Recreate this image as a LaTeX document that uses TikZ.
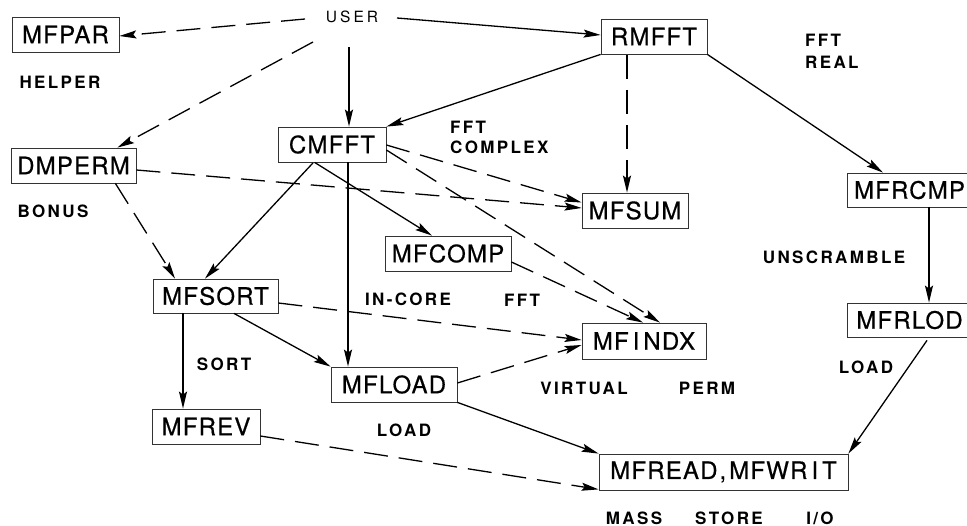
\documentclass[tikz,border=0pt]{standalone}
\usepackage{fontspec}
\setmainfont{TeX Gyre Heros}
\newfontfamily\boxfont[LetterSpace=5,FakeBold=0.6]{TeX Gyre Heros}
\newfontfamily\labfont[LetterSpace=14]{TeX Gyre Heros}
\newfontfamily\userfont[LetterSpace=20]{TeX Gyre Heros}
\usetikzlibrary{arrows.meta}
\begin{document}
\begin{tikzpicture}[x=1pt,y=-1pt,
  routine/.style={draw=black!80, line width=0.8pt, inner sep=0pt,
    minimum height=35pt, font=\boxfont\fontsize{24}{25}\selectfont},
  tag/.style={inner sep=0pt, font=\labfont\bfseries\fontsize{17}{18}\selectfont},
  tagl/.style={tag, anchor=west},
  link/.style={line width=1.3pt, -{Stealth[length=17pt,width=8pt,inset=3pt]}},
  dlink/.style={link, dash pattern=on 24pt off 11pt}]
\clip (0,0) rectangle (967,526);
\useasboundingbox (0,0) rectangle (967,526);

% routines
\node[routine, minimum width=107pt] (mfpar)  at (65.5,34.5)  {MFPAR};
\node[routine, minimum width=106pt] (rmfft)  at (654,36.5)   {RMFFT};
\node[routine, minimum width=108pt] (cmfft)  at (332,144.5)  {CMFFT};
\node[routine, minimum width=125pt] (dmperm) at (73.5,165.5) {DMPERM};
\node[routine, minimum width=106pt] (mfsum)  at (635,210.5)  {MFSUM};
% the two routines on the right run past the edge of the sheet
\node[routine, minimum width=160pt, minimum height=34pt] (mfrcmp) at (927,190) {\kern-35pt MFRCMP};
\node[routine, minimum width=126pt] (mfcomp) at (448,253.5)  {MFCOMP};
\node[routine, minimum width=125pt, minimum height=34pt] (mfsort) at (215.5,296) {MFSORT};
\node[routine, minimum width=124pt, minimum height=36pt] (mfindx) at (644,341) {MF\kern4pt I\kern4pt NDX};
\node[routine, minimum width=160pt, minimum height=34pt] (mfrlod) at (927,320) {\kern-35pt MFRLOD};
\node[routine, minimum width=126pt] (mfload) at (394,384.5)  {MFLOAD};
\node[routine, minimum width=108pt] (mfrev)  at (206,426.5)  {MFREV};
\node[routine, minimum width=249pt, minimum height=36pt] (mfread) at (723.5,472) {MFREAD\kern2pt,\kern3pt MFWR\kern4pt I\kern4pt T};

% captions
\node[inner sep=0pt, font=\userfont\fontsize{15.5}{16}\selectfont] (user) at (352,17) {USER};
\node[tag] (helper) at (60,82) {HELPER};
\node[tag] (bonus)  at (53,211) {BONUS};
\node[tagl] (fftc)  at (450,127) {FFT};
\node[tagl] (cplx)  at (450,147) {COMPLEX};
\node[tagl] (fftr)  at (805,40) {FFT};
\node[tagl] (real)  at (805,62) {REAL};
\node[tag] (unscr)  at (834,257) {UNSCRAMBLE};
\node[tag] (incore) at (408,299) {IN-CORE};
\node[tag] (fftm)   at (522,300) {FFT};
\node[tag] (sortl)  at (224,364) {SORT};
\node[tag] (loadm)  at (404,430) {LOAD};
\node[tag] (virt)   at (584,388) {VIRTUAL};
\node[tag] (perm)   at (707,388) {PERM};
\node[tag] (loadr)  at (866,367) {LOAD};
\node[tag] (mass)   at (634,518) {MASS};
\node[tag] (store)  at (729,518) {STORE};
\node[tag] (io)     at (820,518) {I/O};

% calls from the user
\draw[dlink] ([shift={(-47,2)}]user.center) -- ([shift={(0,1.5)}]mfpar.east);
\draw[dlink] ([shift={(-39,25)}]user.center) -- ([shift={(-19,0)}]dmperm.north east);
\draw[link]  ([shift={(-3,30)}]user.center) -- ([shift={(17,0)}]cmfft.north);
\draw[link]  ([shift={(45,1)}]user.center) -- ([shift={(0,-1.5)}]rmfft.west);

% real transform branch
\draw[link]  (rmfft.south west) -- (cmfft.north east);
\draw[dlink] ([shift={(-27,1)}]rmfft.south) -- ([shift={(-8,0)}]mfsum.north);
\draw[link]  (rmfft.south east) -- ([shift={(-44,0)}]mfrcmp.north);
\draw[link]  ([shift={(2,0)}]mfrcmp.south) -- ([shift={(2,0)}]mfrlod.north);
\draw[link]  ([shift={(0,3)}]mfrlod.south) -- (mfread.north east);

% complex transform branch
\draw[dlink] ([shift={(0,0.5)}]cmfft.east) -- ([shift={(0,-8)}]mfsum.west);
\draw[dlink] ([shift={(0,5.5)}]cmfft.east) -- ([shift={(16,0)}]mfindx.north);
\draw[link]  ([shift={(37,0)}]cmfft.south west) -- ([shift={(-16,0)}]mfcomp.north);
\draw[link]  ([shift={(-19,0.5)}]cmfft.south) -- ([shift={(-10.5,0)}]mfsort.north);
\draw[link]  ([shift={(16,0)}]cmfft.south) -- ([shift={(-46,0)}]mfload.north);

% permutation
\draw[dlink] ([shift={(0,4.5)}]dmperm.east) -- ([shift={(0,-2.5)}]mfsum.west);
\draw[dlink] ([shift={(-21,0)}]dmperm.south east) -- ([shift={(-40.5,0)}]mfsort.north);
\draw[dlink] ([shift={(0,8.5)}]mfcomp.east) -- ([shift={(-1,0)}]mfindx.north);
\draw[dlink] ([shift={(0,7)}]mfsort.east) -- ([shift={(0,-1)}]mfindx.west);
\draw[link]  ([shift={(-32.5,0)}]mfsort.south) -- ([shift={(-23,0)}]mfrev.north);
\draw[link]  ([shift={(18.5,0)}]mfsort.south) -- (mfload.north west);
\draw[dlink] ([shift={(0,-1.5)}]mfload.east) -- ([shift={(0,4)}]mfindx.west);
\draw[link]  (mfload.south east) -- (mfread.north west);
\draw[dlink] ([shift={(0,9.5)}]mfrev.east) -- ([shift={(0,-1)}]mfread.south west);
\end{tikzpicture}
\end{document}
